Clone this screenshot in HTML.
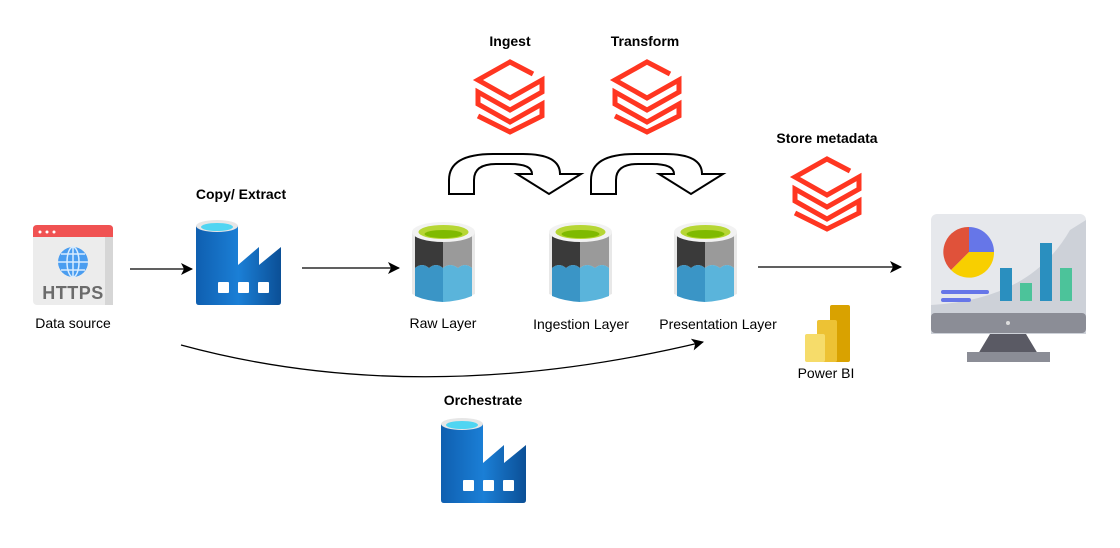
<!DOCTYPE html>
<html><head><meta charset="utf-8"><style>
html,body{margin:0;padding:0;background:#fff;}
svg text{font-family:"Liberation Sans",sans-serif;}
</style></head><body>
<svg width="1120" height="543" viewBox="0 0 1120 543" xmlns="http://www.w3.org/2000/svg">
<defs>
<linearGradient id="fg" x1="0" x2="1" y1="0" y2="0"><stop offset="0" stop-color="#0f5fb0"/><stop offset="0.5" stop-color="#1b7fd6"/><stop offset="1" stop-color="#0b4f96"/></linearGradient>
<marker id="ah" markerWidth="12" markerHeight="12" refX="11" refY="6" orient="auto" markerUnits="userSpaceOnUse"><path d="M0,0 L12,6 L0,12 L3,6 Z" fill="#000"/></marker>
<g id="db" fill="none" stroke="#ff3621" stroke-width="5" stroke-linejoin="miter">
<path d="M57,15 L34,3 L2,21 L34,39 L66,21 L66,33 L34,51 L2,33 L2,45 L34,63 L66,45 L66,57 L34,73 L2,57"/>
</g>
<g id="fac">
<path d="M0,6 L42,6 L42,45 L63,27 L63,45 L85,27 L85,82 Q85,85 82,85 L3,85 Q0,85 0,82 Z" fill="url(#fg)"/>
<ellipse cx="21" cy="6" rx="21" ry="6" fill="#e6e6e6"/>
<ellipse cx="21" cy="7" rx="16" ry="4" fill="#50d5f2"/>
<rect x="22" y="62" width="11" height="11" rx="1" fill="#fff"/>
<rect x="42" y="62" width="11" height="11" rx="1" fill="#fff"/>
<rect x="62" y="62" width="11" height="11" rx="1" fill="#fff"/>
</g>
<g id="cyl">
<path d="M0,10 L0,72 Q31,86 63,72 L63,10 Z" fill="#e8e8e8"/>
<path d="M3,14 L31,18 L31,46 Q24,40 17,46 Q10,40 3,46 Z" fill="#3a3a3a"/>
<path d="M31,18 L60,14 L60,46 Q53,40 46,46 Q38,40 31,46 Z" fill="#9a9a9a"/>
<path d="M3,46 Q10,40 17,46 Q24,40 31,46 L31,80 Q15,79 3,74 Z" fill="#3a95c6"/>
<path d="M31,46 Q38,40 46,46 Q53,40 60,46 L60,74 Q48,79 31,80 Z" fill="#5ab4db"/>
<ellipse cx="31.5" cy="10" rx="31.5" ry="10" fill="#f2f2f2"/>
<ellipse cx="31.5" cy="10" rx="25" ry="7" fill="#b6d634"/>
<ellipse cx="31.5" cy="12" rx="19" ry="4" fill="#7fba00"/>
</g>
<g id="uturn">
<path d="M1,42 L1,28 Q1,2 45,2 L75,2 Q112,2 112,22 L133,22 L101,42 L69,22 L84,22 Q84,12 62,12 L48,12 Q26,12 26,28 L26,42 Z" fill="#fff" stroke="#000" stroke-width="2" stroke-linejoin="miter"/>
</g>
</defs>

<g font-weight="bold" font-size="14" fill="#000" text-anchor="middle">
<text x="241" y="199">Copy/ Extract</text>
<text x="510" y="46">Ingest</text>
<text x="645" y="46">Transform</text>
<text x="827" y="143">Store metadata</text>
<text x="483" y="405">Orchestrate</text>
</g>
<g font-size="14" fill="#000" text-anchor="middle">
<text x="73" y="328">Data source</text>
<text x="443" y="328">Raw Layer</text>
<text x="581" y="329">Ingestion Layer</text>
<text x="718" y="329">Presentation Layer</text>
<text x="826" y="378">Power BI</text>
</g>

<use href="#db" x="476" y="59"/>
<use href="#db" x="613" y="59"/>
<use href="#db" x="793" y="156"/>

<use href="#uturn" x="448" y="152"/>
<use href="#uturn" x="590" y="152"/>

<rect x="33" y="225" width="80" height="80" rx="4" fill="#ececec"/>
<rect x="105" y="237" width="8" height="68" fill="#d6d6d6"/>
<path d="M33,237 L33,229 Q33,225 37,225 L109,225 Q113,225 113,229 L113,237 Z" fill="#f05252"/>
<circle cx="40" cy="232" r="1.5" fill="#fff"/><circle cx="47" cy="232" r="1.5" fill="#fff"/><circle cx="54" cy="232" r="1.5" fill="#fff"/>
<circle cx="73" cy="262" r="15" fill="#4a9df0"/>
<g stroke="#d8ecff" stroke-width="1.5" fill="none"><ellipse cx="73" cy="262" rx="6" ry="15"/><line x1="58" y1="262" x2="88" y2="262"/><line x1="73" y1="247" x2="73" y2="277"/><line x1="61" y1="254" x2="85" y2="254"/><line x1="61" y1="270" x2="85" y2="270"/></g>
<text x="73" y="299" text-anchor="middle" font-size="18" font-weight="bold" fill="#6b6b6b" letter-spacing="0.5">HTTPS</text>

<use href="#fac" x="196" y="220"/>
<use href="#fac" x="441" y="418"/>

<use href="#cyl" x="412" y="222"/>
<use href="#cyl" x="549" y="222"/>
<use href="#cyl" x="674" y="222"/>

<rect x="830" y="305" width="20" height="57" rx="2" fill="#d9a200"/>
<rect x="817" y="320" width="20" height="42" rx="2" fill="#edc234"/>
<rect x="805" y="334" width="20" height="28" rx="2" fill="#f6dc6a"/>

<rect x="931" y="214" width="155" height="120" rx="6" fill="#e6e8ec"/>
<path d="M931,305 Q1030,300 1070,230 L1086,220 L1086,334 L931,334 Z" fill="#cdd1d8"/>
<rect x="931" y="313" width="155" height="20" rx="4" fill="#8b8d96"/>
<circle cx="1008" cy="323" r="2" fill="#ddd"/>
<path d="M990,334 L1026,334 L1038,354 L978,354 Z" fill="#5a5a64"/>
<rect x="967" y="352" width="83" height="10" fill="#8b8d96"/>
<path d="M969,252 L969,227 A25,25 0 0 1 994,252 Z" fill="#6676e8"/>
<path d="M969,252 L994,252 A25,25 0 0 1 951,270 Z" fill="#f8cf00"/>
<path d="M969,252 L951,270 A25,25 0 0 1 969,227 Z" fill="#e0523a"/>
<rect x="941" y="290" width="48" height="4" rx="2" fill="#6676e8"/>
<rect x="941" y="298" width="30" height="4" rx="2" fill="#6676e8"/>
<rect x="1000" y="268" width="12" height="33" fill="#2a8fbf"/>
<rect x="1020" y="283" width="12" height="18" fill="#4cc39a"/>
<rect x="1040" y="243" width="12" height="58" fill="#2a8fbf"/>
<rect x="1060" y="268" width="12" height="33" fill="#4cc39a"/>

<g stroke="#000" stroke-width="1.3" fill="none" marker-end="url(#ah)">
<line x1="130" y1="269" x2="192" y2="269"/>
<line x1="302" y1="268" x2="399" y2="268"/>
<line x1="758" y1="267" x2="901" y2="267"/>
<path d="M181,345 Q420,410 703,342"/>
</g>
</svg>
</body></html>
